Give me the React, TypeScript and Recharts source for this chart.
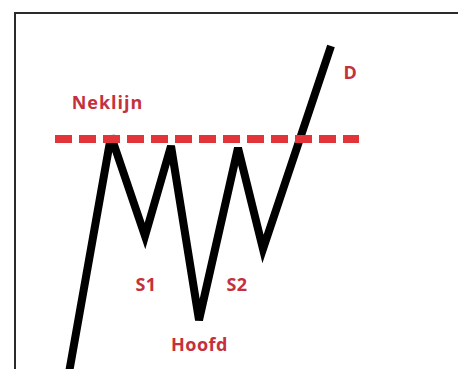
import { LineChart, Line, XAxis, YAxis, ReferenceDot } from 'recharts';

// head-and-shoulders pattern, price path (x = time, y = price)
const pathX = [67, 111, 145, 171, 199, 238, 263, 331];
const pathY = [-15, 233, 133, 223, 49, 221, 120, 323];

// neckline
const neckX = [55, 359];
const neckLevel = 230;

// annotations
const labelText = ['Neklijn', 'S1', 'Hoofd', 'S2', 'D'];
const labelX = [107.5, 146, 199.5, 237, 350.5];
const labelY = [266, 84, 24, 84, 296];

const priceData = pathX.map((x, i) => ({ x, y: pathY[i] }));
const neckData = neckX.map((x) => ({ x, y: neckLevel }));

const RED = '#c4303c';

export default function App() {
  return (
    <div style={{ position: 'absolute', left: 0, top: 0, width: 458, height: 369, background: '#fff' }}>
      <div
        style={{
          position: 'absolute', left: 14, top: 12, right: 0, bottom: 0,
          borderLeft: '2px solid #2a2a2a', borderTop: '2px solid #2a2a2a',
        }}
      />
      <LineChart
        width={458}
        height={369}
        margin={{ top: 0, right: 0, bottom: 0, left: 0 }}
        style={{ position: 'absolute', left: 0, top: 0 }}
      >
        <XAxis type="number" dataKey="x" domain={[0, 458]} hide />
        <YAxis type="number" dataKey="y" domain={[0, 369]} allowDataOverflow hide />
        <Line
          data={priceData}
          dataKey="y"
          stroke="#000"
          strokeWidth={8}
          dot={false}
          activeDot={false}
          isAnimationActive={false}
        />
        <Line
          data={neckData}
          dataKey="y"
          stroke="#e3343a"
          strokeWidth={8}
          strokeDasharray="17 7"
          dot={false}
          activeDot={false}
          isAnimationActive={false}
        />
        {labelText.map((t, i) => (
          <ReferenceDot
            key={t}
            x={labelX[i]}
            y={labelY[i]}
            r={0}
            fill="none"
            stroke="none"
            label={{
              value: t,
              position: 'center',
              fill: RED,
              fontSize: 18,
              fontWeight: 700,
              fontFamily: '"Open Sans", sans-serif',
              letterSpacing: t === 'Neklijn' ? 1 : 0.5,
            }}
          />
        ))}
      </LineChart>
    </div>
  );
}
